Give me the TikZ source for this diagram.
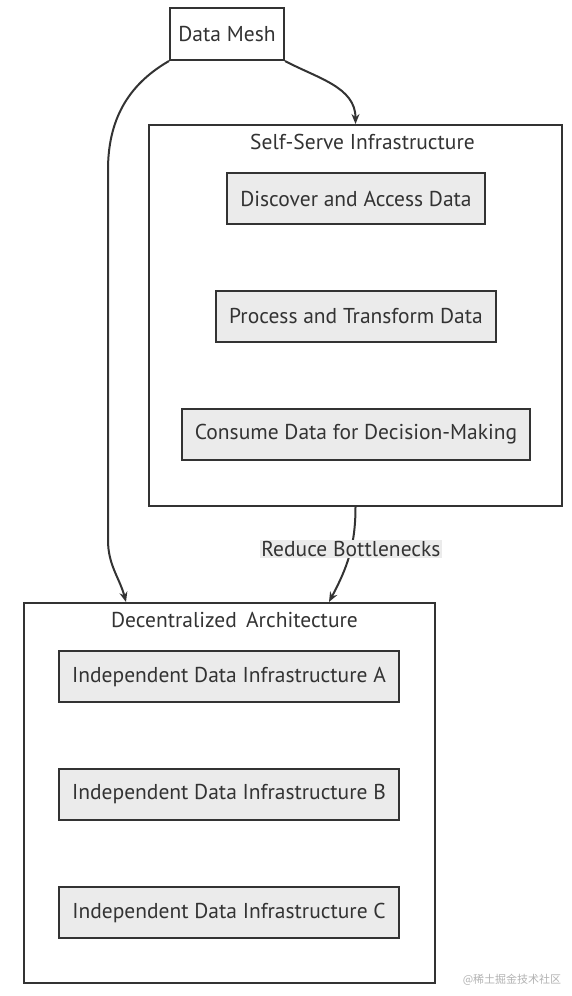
\documentclass[tikz,border=0pt]{standalone}
\usepackage{fontspec}
\setmainfont{PT Sans}
\newfontfamily\cjkfont{Noto Sans CJK SC}
\usetikzlibrary{positioning, arrows.meta, calc}

\begin{document}
\begin{tikzpicture}[
    x=1pt, y=-1pt,
    >={Stealth[length=10pt, width=8pt]},
    node distance=118pt,
    on grid,
    every node/.style={font=\fontsize{21.5}{25}\selectfont, text=black!80},
    topnode/.style={draw=black!80, line width=2pt, fill=white, minimum width=114pt, minimum height=52pt},
    cluster/.style={draw=black!80, line width=2pt, fill=white},
    task/.style={draw=black!80, line width=2pt, fill=black!8, minimum height=51pt, inner xsep=13pt},
    link/.style={line width=2pt, draw=black!80},
    linklabel/.style={fill=black!8, inner sep=1.5pt}
]
\useasboundingbox (0,0) rectangle (571,996);

% -------------------------
% CLUSTERS
% -------------------------
\node[cluster, minimum width=413pt, minimum height=381pt] (SelfServe) at (355.5,315.5) {};
\node[anchor=north] (SelfServeTitle) at ($(SelfServe.north)+(7,7)$) {Self-Serve Infrastructure};

\node[cluster, minimum width=411pt, minimum height=380pt] (Decentral) at (229.5,793) {};
\node[anchor=north] (DecentralTitle) at ($(Decentral.north)+(5,7)$) {Decentralized\, Architecture};

% -------------------------
% NODES
% -------------------------
\node[topnode] (DataMesh) at (227,34) {Data Mesh};

\node[task] (Discover) at (356,198.5) {Discover and Access Data};
\node[task] (Process) [below=of Discover] {Process and Transform Data};
\node[task] (Consume) [below=of Process] {Consume Data for Decision-Making};

\node[task] (InfraA) at (229,676.5) {Independent Data Infrastructure A};
\node[task] (InfraB) [below=of InfraA] {Independent Data Infrastructure B};
\node[task] (InfraC) [below=of InfraB] {Independent Data Infrastructure C};

% -------------------------
% CONNECTORS
% -------------------------
\draw[link, ->] (DataMesh.south east) to[out=-28, in=90] (SelfServe.north);
\draw[link, ->] (DataMesh.south west) to[out=-150, in=90] (108,170) -- (108,540)
    to[out=-90, in=105] ($(Decentral.north west)+(103,0)$);
\draw[link, ->] (SelfServe.south) to[out=-90, in=62] node[linklabel, pos=0.42] {Reduce Bottlenecks} ($(Decentral.north west)+(306,0)$);

% watermark
\node[font=\cjkfont\fontsize{11}{13}\selectfont, text=black!30] (Mark) at (512,980) {@稀土掘金技术社区};

\end{tikzpicture}
\end{document}
